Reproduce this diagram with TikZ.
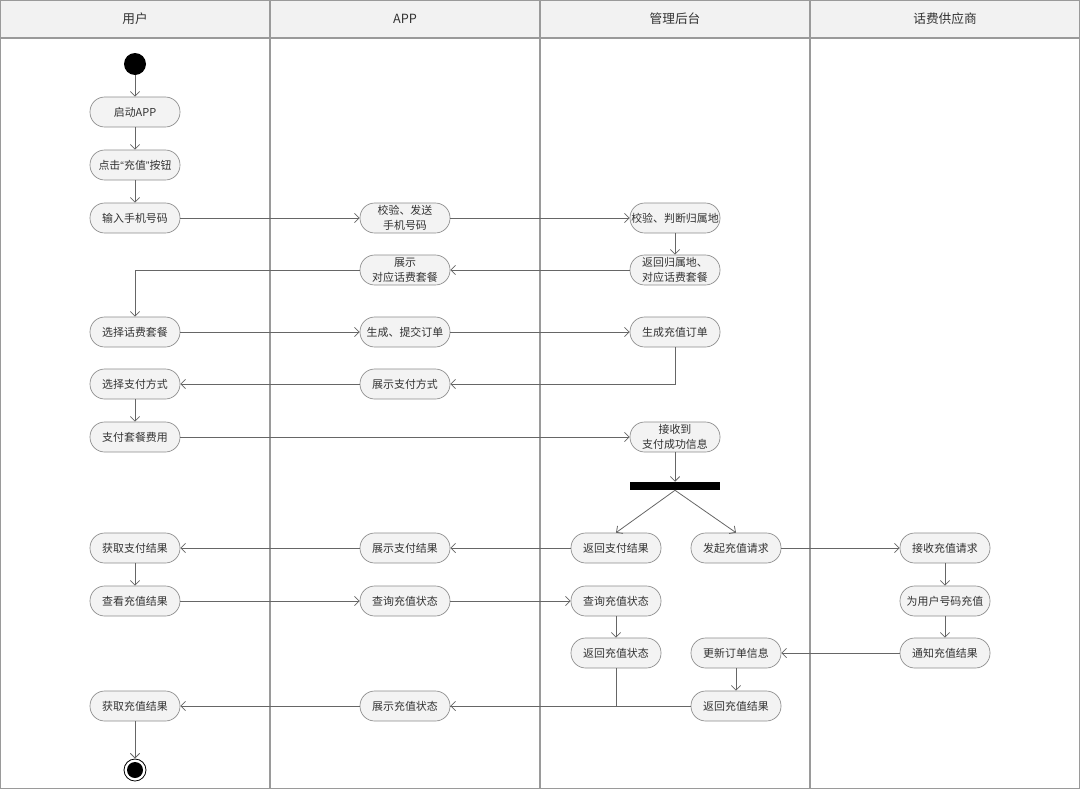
\documentclass[tikz,border=0pt]{standalone}
\usepackage{fontspec}
\newfontfamily\cjkfont{Noto Sans CJK SC}
\newfontfamily\qfont{Liberation Sans}
\usetikzlibrary{arrows.meta}
\definecolor{lanegray}{HTML}{9A9A9A}
\definecolor{headfill}{HTML}{F2F2F2}
\definecolor{nodefill}{HTML}{F3F3F3}
\definecolor{nodeline}{HTML}{8C8C8C}
\definecolor{txt}{HTML}{333333}
\definecolor{lnk}{HTML}{666666}
\begin{document}
\begin{tikzpicture}[x=0.75pt,y=-0.75pt,
  act/.style={draw=nodeline, line width=0.5pt, fill=nodefill, rounded corners=11pt,
    minimum width=67.5pt, minimum height=22.5pt, inner xsep=0pt, inner ysep=1pt, align=center,
    font=\cjkfont\fontsize{8.2}{11}\selectfont, text=txt},
  head/.style={font=\cjkfont\fontsize{9.5}{11}\selectfont, text=txt},
  flow/.style={draw=lnk, line width=0.6pt, -{Straight Barb[length=3.5pt,width=7pt]}},
  plain/.style={draw=lnk, line width=0.6pt},
  lane/.style={draw=lanegray, line width=0.8pt}]
\useasboundingbox (0,0) rectangle (1080,789);
% header and lanes
\fill[headfill] (0,0) rectangle (1080,38);
\draw[lane] (0.5,0.5) rectangle (1079.5,788.5);
\draw[lane] (0,38) -- (1080,38);
\foreach \x in {270,540,810} \draw[lane] (\x,0) -- (\x,789);
\node[head] (h1) at (135,19) {用户};
\node[head] (h2) at (405,19) {APP};
\node[head] (h3) at (675,19) {管理后台};
\node[head] (h4) at (945,19) {话费供应商};
% user lane
\node[circle, fill=black, minimum size=16.5pt, inner sep=0] (start) at (135,64) {};
\node[act] (u1) at (135,112) {启动APP};
\node[act] (u2) at (135,165) {点击{\qfont“}充值{\qfont”}按钮};
\node[act] (u3) at (135,218) {输入手机号码};
\node[act] (u4) at (135,332) {选择话费套餐};
\node[act] (u5) at (135,384) {选择支付方式};
\node[act] (u6) at (135,437) {支付套餐费用};
\node[act] (u7) at (135,548) {获取支付结果};
\node[act] (u8) at (135,601) {查看充值结果};
\node[act] (u9) at (135,706) {获取充值结果};
\node[circle, draw=black, line width=0.6pt, minimum size=16.5pt, inner sep=0] (end) at (135,770) {};
\fill[black] (end.center) circle (6pt);
% app lane
\node[act] (a1) at (405,218) {校验、发送\\手机号码};
\node[act] (a2) at (405,270) {展示\\对应话费套餐};
\node[act] (a3) at (405,332) {生成、提交订单};
\node[act] (a4) at (405,384) {展示支付方式};
\node[act] (a5) at (405,548) {展示支付结果};
\node[act] (a6) at (405,601) {查询充值状态};
\node[act] (a7) at (405,706) {展示充值状态};
% admin lane
\node[act] (m1) at (675,218) {校验、判断归属地};
\node[act] (m2) at (675,270) {返回归属地、\\对应话费套餐};
\node[act] (m3) at (675,332) {生成充值订单};
\node[act] (m4) at (675,437) {接收到\\支付成功信息};
\node[fill=black, minimum width=67.5pt, minimum height=6pt, inner sep=0] (bar) at (675,486) {};
\node[act] (m5) at (616,548) {返回支付结果};
\node[act] (m6) at (736,548) {发起充值请求};
\node[act] (m7) at (616,601) {查询充值状态};
\node[act] (m8) at (616,653) {返回充值状态};
\node[act] (m9) at (736,653) {更新订单信息};
\node[act] (m10) at (736,706) {返回充值结果};
% provider lane
\node[act] (p1) at (945,548) {接收充值请求};
\node[act] (p2) at (945,601) {为用户号码充值};
\node[act] (p3) at (945,653) {通知充值结果};
% flows
\draw[flow] (start) -- (u1);
\draw[flow] (u1) -- (u2);
\draw[flow] (u2) -- (u3);
\draw[flow] (u3) -- (a1);
\draw[flow] (a1) -- (m1);
\draw[flow] (m1) -- (m2);
\draw[flow] (m2) -- (a2);
\draw[flow] (a2.west) -| (u4.north);
\draw[flow] (u4) -- (a3);
\draw[flow] (a3) -- (m3);
\draw[flow] (m3.south) |- (a4.east);
\draw[flow] (a4) -- (u5);
\draw[flow] (u5) -- (u6);
\draw[flow] (u6) -- (m4);
\draw[flow] (m4.south) -- (bar.north);
\draw[flow] (bar.south) -- (m5.north);
\draw[flow] (bar.south) -- (m6.north);
\draw[flow] (m5) -- (a5);
\draw[flow] (a5) -- (u7);
\draw[flow] (m6) -- (p1);
\draw[flow] (u7) -- (u8);
\draw[flow] (u8) -- (a6);
\draw[flow] (a6) -- (m7);
\draw[flow] (m7) -- (m8);
\draw[flow] (p1) -- (p2);
\draw[flow] (p2) -- (p3);
\draw[flow] (p3) -- (m9);
\draw[flow] (m9) -- (m10);
\draw[flow] (m8.south) |- (a7.east);
\draw[plain] (m10.west) -- (a7.east);
\draw[flow] (a7) -- (u9);
\draw[flow] (u9) -- (end);
\end{tikzpicture}
\end{document}
